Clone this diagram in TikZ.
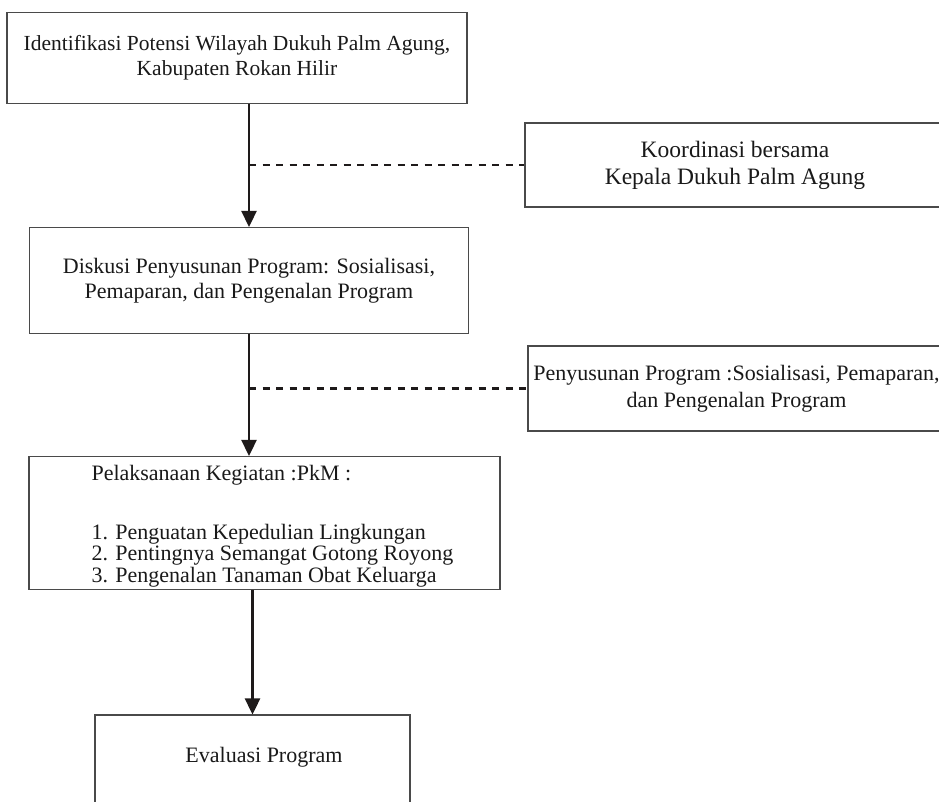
\documentclass[tikz,border=0pt]{standalone}
\usepackage{fontspec}
\setmainfont{Liberation Serif}
\usetikzlibrary{arrows.meta,positioning}
\definecolor{BoxLine}{HTML}{4A4A4A}
\definecolor{FlowInk}{HTML}{1E1A1A}

\tikzset{
  box/.style={draw=BoxLine,line width=1.1pt,inner sep=0pt,align=center,text=black!90,
    font=\fontsize{22}{25}\selectfont},
  flow/.style={FlowInk,line width=2.6pt,-{Triangle[width=15pt,length=16pt]}},
  dotline/.style={FlowInk,line width=2.2pt,dash pattern=on 7pt off 6.5pt}
}

\begin{document}
\begin{tikzpicture}[x=1pt,y=-1pt]
  \useasboundingbox (0,0) rectangle (939,801);
  % left column
  \node[box,minimum width=460pt,minimum height=91pt,font=\fontsize{21.5}{25}\selectfont] (ident) at (237,58)
    {Identifikasi Potensi Wilayah Dukuh Palm Agung,\\Kabupaten Rokan Hilir};
  \node[box,minimum width=439pt,minimum height=106pt] (disk) at (249,280.5)
    {Diskusi Penyusunan Program: Sosialisasi,\\Pemaparan, dan Pengenalan Program};
  \node[box,minimum width=471pt,minimum height=133pt] (pel) at (264.5,523) {};
  \node[anchor=north west,align=left,text=black!90,font=\fontsize{22}{21.5}\selectfont] (peltxt) at (88,462)
    {Pelaksanaan Kegiatan :PkM :\\[37pt]1. Penguatan Kepedulian Lingkungan\\2. Pentingnya Semangat Gotong Royong\\3. Pengenalan Tanaman Obat Keluarga};
  \node[box,minimum width=315pt,minimum height=90pt] (eval) at (252.5,760) {};
  \node[text=black!90,font=\fontsize{22}{25}\selectfont] (evaltxt) at (264,757) {Evaluasi Program};
  % side boxes
  \node[box,minimum width=420pt,minimum height=84pt,font=\fontsize{23.5}{27}\selectfont] (koord) at (735,165)
    {Koordinasi bersama\\Kepala Dukuh Palm Agung};
  \node[box,minimum width=417pt,minimum height=85pt,font=\fontsize{22}{27}\selectfont] (susun) at (736.5,388.5)
    {Penyusunan Program :Sosialisasi, Pemaparan,\\dan Pengenalan Program};
  % connectors
  \draw[flow] (disk.north |- ident.south) -- (disk.north);
  \draw[flow] (disk.south) -- (disk.south |- pel.north);
  \draw[flow] (eval.north |- pel.south) -- (eval.north);
  \draw[dotline] (koord.west -| disk.north) -- (koord.west);
  \draw[dotline] (susun.west -| disk.south) -- (susun.west);
\end{tikzpicture}
\end{document}
